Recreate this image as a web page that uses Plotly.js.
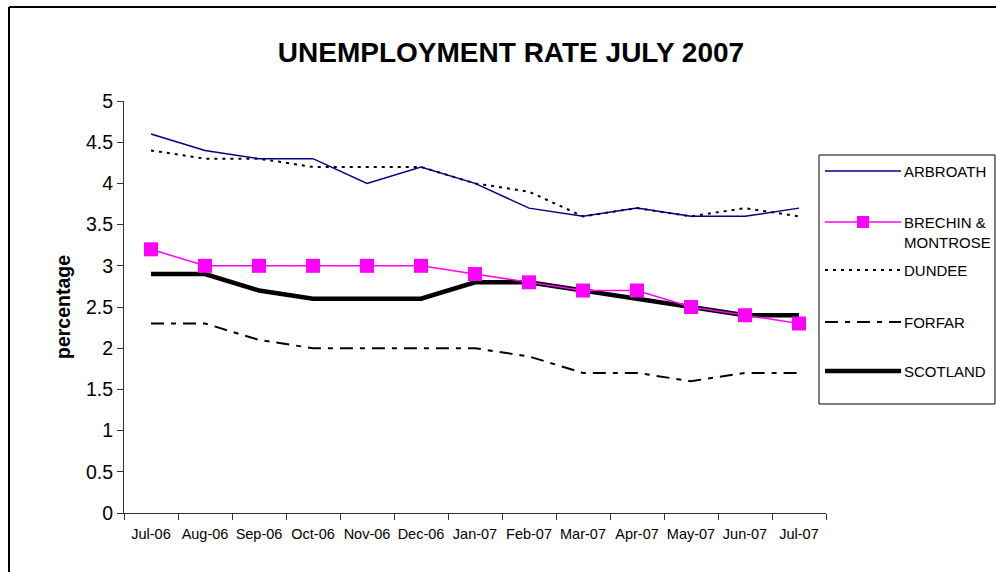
<!DOCTYPE html>
<html>
<head>
<meta charset="utf-8">
<script src="https://cdn.plot.ly/plotly-3.0.1.min.js"></script>
<style>
  html, body { margin: 0; padding: 0; background: #fff; }
  #chart { width: 996px; height: 572px; }
</style>
</head>
<body>
<div id="chart"></div>
<script>
const months = ["Jul-06","Aug-06","Sep-06","Oct-06","Nov-06","Dec-06","Jan-07","Feb-07","Mar-07","Apr-07","May-07","Jun-07","Jul-07"];
const arbroath = [4.6, 4.4, 4.3, 4.3, 4.0, 4.2, 4.0, 3.7, 3.6, 3.7, 3.6, 3.6, 3.7];
const brechin  = [3.2, 3.0, 3.0, 3.0, 3.0, 3.0, 2.9, 2.8, 2.7, 2.7, 2.5, 2.4, 2.3];
const dundee   = [4.4, 4.3, 4.3, 4.2, 4.2, 4.2, 4.0, 3.9, 3.6, 3.7, 3.6, 3.7, 3.6];
const forfar   = [2.3, 2.3, 2.1, 2.0, 2.0, 2.0, 2.0, 1.9, 1.7, 1.7, 1.6, 1.7, 1.7];
const scotland = [2.9, 2.9, 2.7, 2.6, 2.6, 2.6, 2.8, 2.8, 2.7, 2.6, 2.5, 2.4, 2.4];
const seriesNames = ["ARBROATH", "BRECHIN &<br>MONTROSE", "DUNDEE", "FORFAR", "SCOTLAND"];
const yTicks = [0, 0.5, 1, 1.5, 2, 2.5, 3, 3.5, 4, 4.5, 5];

const FONT = "Liberation Sans, Arial, sans-serif";
const L = 124, R = 826, T = 101, B = 513, W = 996, H = 572;
const px = x => (x - L) / (R - L);
const py = y => (B - y) / (B - T);

const styles = [
  {color: "#000080", width: 1.5, dash: "solid"},
  {color: "#FF00FF", width: 1.5, dash: "solid"},
  {color: "#000000", width: 2, dash: "3px,5px"},
  {color: "#000000", width: 2, dash: "13px,7px,5px,7px"},
  {color: "#000000", width: 4.5, dash: "solid"}
];
const seriesData = [arbroath, brechin, dundee, forfar, scotland];
const drawOrder = [4, 3, 2, 0, 1];

const traces = drawOrder.map(i => {
  const t = {
    x: months, y: seriesData[i], type: "scatter",
    mode: i === 1 ? "lines+markers" : "lines",
    name: seriesNames[i].replace("<br>", " "),
    line: {color: styles[i].color, width: styles[i].width, dash: styles[i].dash},
    showlegend: false, hoverinfo: "x+y+name"
  };
  if (i === 1) t.marker = {symbol: "square", size: 14, color: "#FF00FF", line: {width: 0}};
  return t;
});

// Custom legend (box, samples, labels)
const legendY = [171, 222, 270, 322, 371];
const shapes = [
  {type: "rect", xref: "paper", yref: "paper", x0: px(819), x1: px(995), y0: py(404), y1: py(155),
   line: {color: "#000", width: 1}, fillcolor: "rgba(0,0,0,0)"},
  // outer chart border
  {type: "line", xref: "paper", yref: "paper", x0: px(9), x1: px(9), y0: py(7), y1: py(600), line: {color: "#000", width: 2}},
  {type: "line", xref: "paper", yref: "paper", x0: px(9), x1: px(1010), y0: py(7), y1: py(7), line: {color: "#000", width: 2}}
];
const annotations = [];
seriesNames.forEach((n, i) => {
  shapes.push({type: "line", xref: "paper", yref: "paper", x0: px(825), x1: px(901), y0: py(legendY[i]), y1: py(legendY[i]),
    line: {color: styles[i].color, width: styles[i].width, dash: styles[i].dash}});
  annotations.push({xref: "paper", yref: "paper", x: px(902), y: py(legendY[i]), xanchor: "left",
    yanchor: i === 1 ? "top" : "middle", yshift: i === 1 ? 10 : 0,
    text: n, showarrow: false, align: "left", font: {family: FONT, size: 15, color: "#000"}});
});
shapes.push({type: "rect", xref: "paper", yref: "paper", x0: px(857), x1: px(869), y0: py(228), y1: py(216),
  fillcolor: "#FF00FF", line: {width: 0}});

const layout = {
  width: W, height: H,
  margin: {l: L, r: W - R, t: T, b: H - B, pad: 0},
  paper_bgcolor: "#fff", plot_bgcolor: "#fff",
  showlegend: false,
  font: {family: FONT, color: "#000"},
  title: {text: "<b>UNEMPLOYMENT RATE JULY 2007</b>", font: {family: FONT, size: 28, color: "#000"},
          xref: "paper", x: px(511), xanchor: "center", yref: "container", y: 1 - 52 / H, yanchor: "middle"},
  xaxis: {
    type: "category", tickvals: months, ticktext: months, range: [-0.5, months.length - 0.5],
    tickson: "boundaries", ticks: "outside", ticklen: 6, tickcolor: "#333", tickwidth: 1,
    showline: true, linecolor: "#333", linewidth: 1, showgrid: false, zeroline: false,
    tickfont: {family: FONT, size: 14.5, color: "#000"}, tickangle: 0, ticklabelstandoff: 8, fixedrange: true
  },
  yaxis: {
    range: [0, 5], tickvals: yTicks, ticktext: yTicks.map(String),
    ticks: "outside", ticklen: 6, tickcolor: "#333", tickwidth: 1,
    showline: true, linecolor: "#333", linewidth: 1, showgrid: false, zeroline: false,
    tickfont: {family: FONT, size: 19.5, color: "#000"}, fixedrange: true,
    title: {text: "<b>percentage</b>", font: {family: FONT, size: 19.5, color: "#000"}, standoff: 10}
  },
  shapes: shapes,
  annotations: annotations
};

Plotly.newPlot("chart", traces, layout, {displayModeBar: false, staticPlot: true});
</script>
</body>
</html>
